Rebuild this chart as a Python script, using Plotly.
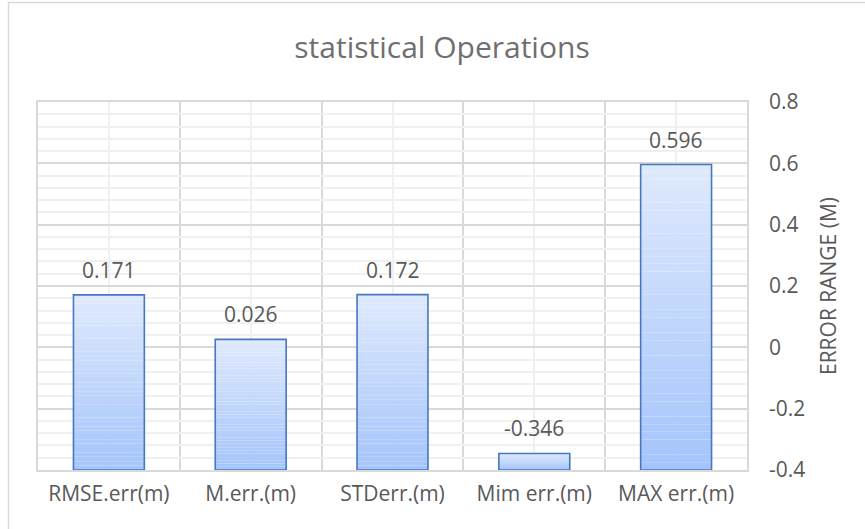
import plotly.graph_objects as go

categories = ["RMSE.err(m)", "M.err.(m)", "STDerr.(m)", "Mim err.(m)", "MAX err.(m)"]
values = [0.171, 0.026, 0.172, -0.346, 0.596]
y_ticks = [-0.4, -0.2, 0, 0.2, 0.4, 0.6, 0.8]
y_tick_text = ["-0.4", "-0.2", "0", "0.2", "0.4", "0.6", "0.8"]

AXIS_MIN = -0.4
AXIS_MAX = 0.8
W, H = 865, 529
ML, MR, MT, MB = 38, 118, 102, 59
FONT = "Open Sans"
GREY = "#595959"

x_idx = list(range(len(categories)))

TOP = (223, 233, 253)
BOT = (164, 196, 251)
N = 40

fig = go.Figure()

# gradient fill: each bar split into N stacked slices (light at top, darker at bottom)
for k in range(N):
    t = (k + 0.5) / N  # 0 bottom -> 1 top
    c = tuple(round(BOT[j] + (TOP[j] - BOT[j]) * t) for j in range(3))
    heights = [(v - AXIS_MIN) / N for v in values]
    bases = [AXIS_MIN + (v - AXIS_MIN) * k / N for v in values]
    fig.add_trace(go.Bar(
        x=x_idx, y=heights, base=bases, width=0.5,
        marker=dict(color="rgb(%d,%d,%d)" % c, line=dict(width=0)),
        hoverinfo="skip", showlegend=False,
    ))

# outline
fig.add_trace(go.Bar(
    x=x_idx, y=[v - AXIS_MIN for v in values], base=[AXIS_MIN] * len(values), width=0.5,
    marker=dict(color="rgba(0,0,0,0)", line=dict(color="#4677c2", width=1.6)),
    showlegend=False,
))

for i, v in zip(x_idx, values):
    fig.add_annotation(
        x=i, y=v, xref="x", yref="y", text=f"{v:.3f}", showarrow=False,
        yshift=25, yanchor="middle", font=dict(family=FONT, size=21, color=GREY),
    )

pw = W - ML - MR
ph = H - MT - MB
def px_x(p):
    return (p - ML) / pw
def px_y(p):
    return 1 - (p - MT) / ph

# outer chart border (left and top edges visible)
fig.add_shape(type="rect", xref="paper", yref="paper",
              x0=px_x(8.5), x1=px_x(W + 10), y0=px_y(H + 10), y1=px_y(2.5),
              line=dict(color="#d9d9d9", width=1.5), fillcolor="rgba(0,0,0,0)", layer="below")

fig.update_layout(
    width=W, height=H,
    margin=dict(l=ML, r=MR, t=MT, b=MB, autoexpand=False),
    paper_bgcolor="white", plot_bgcolor="white",
    barmode="overlay", bargap=0.5,
    title=dict(text="statistical Operations", x=0.511, xanchor="center",
               y=1 - 47 / H, yanchor="middle", yref="container", automargin=False,
               font=dict(family=FONT, size=30, color="#6f6f6f")),
    font=dict(family=FONT, color=GREY),
    xaxis=dict(
        range=[-0.5, len(categories) - 0.5], automargin=False,
        tickmode="array", tickvals=x_idx, ticktext=categories,
        tickfont=dict(family=FONT, size=21, color=GREY),
        showgrid=True, gridcolor="#f0f0f0", gridwidth=1.5,
        minor=dict(tick0=-0.5, dtick=1, showgrid=True, gridcolor="#d9d9d9", gridwidth=1.5),
        showline=True, mirror=True, linecolor="#d9d9d9", linewidth=1.5,
        ticks="", zeroline=False, ticklabelstandoff=4,
    ),
    yaxis=dict(
        side="right", range=[AXIS_MIN, AXIS_MAX], automargin=False,
        tickmode="array", tickvals=y_ticks, ticktext=y_tick_text,
        tickfont=dict(family=FONT, size=21, color=GREY),
        showgrid=True, gridcolor="#d9d9d9", gridwidth=1.5,
        minor=dict(dtick=0.04, tick0=-0.4, showgrid=True, gridcolor="#f0f0f0", gridwidth=1.5),
        showline=True, mirror=True, linecolor="#d9d9d9", linewidth=1.5,
        ticks="", zeroline=False, ticklabelstandoff=16,
        title=dict(text="ERROR RANGE (M)", standoff=17,
                   font=dict(family=FONT, size=21, color=GREY)),
    ),
)

fig.write_html("out.html", config={"displayModeBar": False},
               post_script="document.body.style.margin='0';")
